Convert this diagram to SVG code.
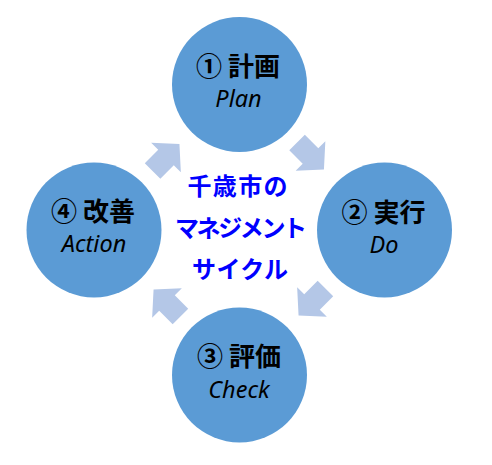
<svg xmlns="http://www.w3.org/2000/svg" width="492" height="465" viewBox="0 0 492 465">
<style>
.node{fill:#5b9bd5;}
.jp{font-family:"Noto Sans CJK JP","Noto Sans",sans-serif;font-weight:bold;font-size:26px;fill:#000;text-anchor:middle;}
.en{font-family:"Noto Sans","Open Sans",sans-serif;font-style:italic;font-size:23.5px;fill:#000;text-anchor:middle;}
.center{font-family:"Noto Sans CJK JP",sans-serif;font-weight:bold;font-size:24px;fill:#0000ff;text-anchor:middle;}
.arrow{fill:#b4c7e7;}
</style>
<defs>
<path id="arr" d="M-19,-11 H0 V-21 L19,0 L0,21 V11 H-19 Z"/>
</defs>
<rect width="492" height="465" fill="#fff"/>
<g id="connectors">
<use href="#arr" class="arrow" transform="translate(310.5,156) rotate(45)"/>
<use href="#arr" class="arrow" transform="translate(312,302) rotate(135)"/>
<use href="#arr" class="arrow" transform="translate(167,303) rotate(225)"/>
<use href="#arr" class="arrow" transform="translate(166,157.5) rotate(-45)"/>
</g>
<g id="plan">
<circle class="node" cx="239.5" cy="84.5" r="67.5"/>
<text class="jp" x="238" y="76">① 計画</text>
<text class="en" x="238.5" y="107">Plan</text>
</g>
<g id="do">
<circle class="node" cx="384.5" cy="230" r="67.5"/>
<text class="jp" x="383.5" y="222">② 実行</text>
<text class="en" x="384" y="253">Do</text>
</g>
<g id="check">
<circle class="node" cx="239.5" cy="375" r="67.5"/>
<text class="jp" x="239" y="366">③ 評価</text>
<text class="en" x="239" y="398">Check</text>
</g>
<g id="action">
<circle class="node" cx="94" cy="230" r="67.5"/>
<text class="jp" x="93" y="221">④ 改善</text>
<text class="en" x="94" y="252">Action</text>
</g>
<g id="title">
<text class="center" x="237.5" y="195" textLength="100">千歳市の</text>
<text class="center" x="241" y="237" textLength="132">マネジメント</text>
<text class="center" x="240" y="278" textLength="96">サイクル</text>
</g>
</svg>
